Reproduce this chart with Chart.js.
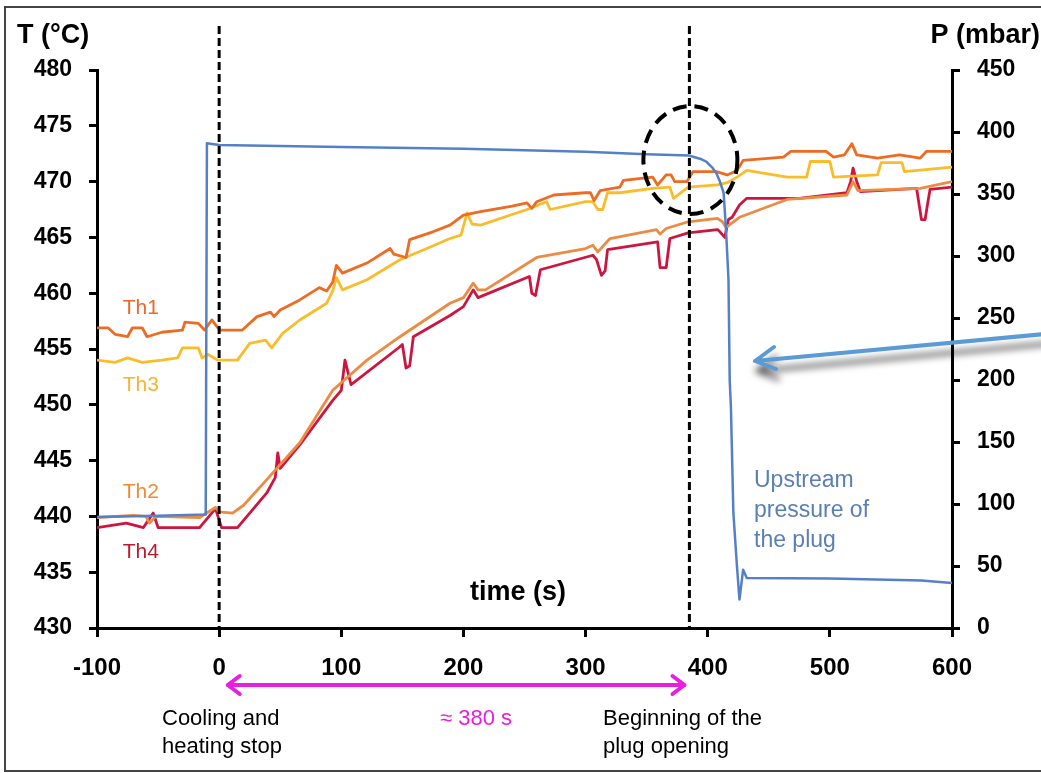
<!DOCTYPE html>
<html>
<head>
<meta charset="utf-8">
<script src="https://cdn.jsdelivr.net/npm/chart.js@4"></script>
<style>
  body { margin: 0; background: #fff; }
  canvas { display: block; }
</style>
</head>
<body>
<canvas id="myChart" width="1041" height="773"></canvas>
<script>
// temperatures (°C), time in s
const th1Time = [-100, -91, -85, -75, -71, -63, -59, -47, -30, -28, -17, -12, -6, -1, 1, 19, 31, 42, 45, 50, 66, 82, 88, 93, 96, 101, 121, 140, 143, 153, 156, 175, 189, 200, 214, 240, 252, 256, 260, 274, 300, 304, 307, 312, 328, 331, 355, 359, 366, 370, 373, 383, 388, 407, 416, 424, 429, 462, 468, 497, 503, 512, 518, 522, 539, 557, 574, 579, 600];
const th1 = [456.9, 456.9, 456.3, 456.1, 456.9, 456.9, 456.1, 456.5, 456.7, 457.4, 457.3, 456.7, 457.6, 456.9, 456.7, 456.7, 457.9, 458.3, 457.9, 458.5, 459.4, 460.5, 460.2, 461.0, 462.5, 461.8, 462.7, 464.0, 463.5, 463.2, 464.8, 465.5, 466.1, 467.0, 467.3, 467.8, 468.1, 467.6, 468.2, 468.8, 469.0, 469.0, 468.3, 469.2, 469.5, 470.1, 470.4, 469.7, 470.6, 470.6, 470.0, 470.0, 470.9, 470.9, 470.6, 471.0, 471.9, 472.2, 472.7, 472.7, 472.2, 472.4, 473.4, 472.4, 472.1, 472.4, 472.1, 472.7, 472.7];

const th3Time = [-100, -85, -75, -63, -47, -34, -30, -17, -14, -9, -1, 1, 15, 25, 38, 43, 52, 66, 88, 93, 96, 101, 121, 148, 170, 189, 198, 203, 207, 214, 252, 268, 271, 300, 306, 310, 314, 318, 328, 355, 369, 372, 384, 408, 416, 424, 432, 465, 481, 484, 500, 503, 539, 542, 559, 561, 600];
const th3 = [454.0, 453.8, 454.2, 453.8, 454.0, 454.2, 455.1, 455.1, 454.2, 454.5, 454.0, 454.0, 454.0, 455.5, 455.8, 455.1, 456.4, 457.6, 459.1, 460.2, 461.4, 460.3, 461.2, 463.0, 464.0, 464.9, 465.2, 467.2, 466.2, 466.1, 467.5, 468.2, 467.5, 468.2, 468.2, 467.5, 467.5, 469.0, 469.0, 469.4, 469.5, 468.5, 469.5, 469.7, 469.9, 470.4, 471.0, 470.4, 470.4, 471.8, 471.8, 470.4, 470.6, 471.7, 471.7, 470.9, 471.3];

const th2Time = [-100, -70, -60, -57, -52, -16, -3, 0, 11, 20, 39, 66, 93, 121, 148, 189, 200, 208, 212, 218, 260, 300, 306, 310, 320, 358, 361, 366, 384, 408, 412, 415, 426, 465, 514, 519, 523, 574, 600];
const th2 = [439.9, 440.1, 440.0, 439.4, 440.0, 439.9, 440.8, 440.4, 440.3, 441.0, 443.3, 446.6, 451.3, 454.0, 456.1, 459.1, 459.6, 460.9, 460.3, 460.3, 463.2, 464.0, 464.3, 463.7, 464.9, 465.7, 465.3, 465.8, 466.4, 466.7, 466.4, 465.9, 466.8, 468.4, 468.8, 470.0, 469.2, 469.4, 470.0];

const th4Time = [-100, -76, -62, -54, -50, -16, -3, 2, 15, 39, 46, 48, 50, 66, 93, 100, 103, 108, 148, 150, 153, 156, 159, 189, 200, 208, 212, 254, 256, 259, 263, 306, 309, 313, 316, 318, 359, 361, 366, 369, 384, 408, 410, 414, 417, 420, 426, 432, 475, 514, 517, 519, 522, 525, 571, 573, 575, 578, 580, 582, 600];
const th4 = [439.0, 439.4, 439.0, 440.3, 439.0, 439.0, 440.7, 439.0, 439.0, 442.1, 443.5, 445.7, 444.3, 446.4, 450.4, 451.3, 454.0, 451.8, 455.2, 455.4, 453.3, 453.5, 456.1, 458.0, 458.8, 460.3, 459.6, 461.5, 460.0, 459.8, 462.1, 463.4, 463.0, 461.6, 462.0, 463.9, 464.6, 462.3, 462.3, 464.9, 465.4, 465.7, 465.5, 465.0, 466.6, 466.8, 467.9, 468.5, 468.5, 469.0, 470.0, 471.2, 470.0, 469.1, 469.4, 468.0, 466.6, 466.6, 468.0, 469.3, 469.5];

// upstream pressure (mbar)
const pTime = [-100, -50, -11, -10, 0, 50, 100, 200, 300, 350, 385, 388, 395, 399, 404, 407, 410, 413, 415, 417, 418, 419, 421, 424, 426, 429, 432, 500, 557, 575, 600];
const pressure = [89.5, 90.5, 91.5, 391, 389.5, 388.8, 388, 386.5, 384, 382, 381, 380, 378, 376, 371, 367, 360, 351, 321, 281, 200, 178, 93, 49, 23, 47, 40.3, 40, 38.7, 38.3, 36.3];

const timeTicks = [-100, 0, 100, 200, 300, 400, 500, 600];
const markers = [0, 385]; // dashed verticals

function pts(xs, ys) {
    return xs.map((x, i) => ({ x: x, y: ys[i] }));
}

Chart.defaults.font.family = 'Liberation Sans, Arial, sans-serif';
Chart.defaults.color = '#000';

const annotations = {
    id: 'annotations',
    afterDatasetsDraw(chart) {
        const c = chart.ctx;
        const sx = chart.scales.x;
        const area = chart.chartArea;
        c.save();

        // frame
        c.strokeStyle = '#444';
        c.lineWidth = 2;
        c.strokeRect(5, 7, 1100, 764);

        // dashed verticals
        c.strokeStyle = '#000';
        c.lineWidth = 3;
        c.setLineDash([8, 4]);
        markers.forEach(m => {
            const px = sx.getPixelForValue(m);
            c.beginPath();
            c.moveTo(px, 26);
            c.lineTo(px, area.bottom);
            c.stroke();
        });

        // dashed circle
        c.lineWidth = 4;
        c.setLineDash([14, 8]);
        c.beginPath();
        c.ellipse(sx.getPixelForValue(385) + 1, 160, 47, 54, 0, 0, Math.PI * 2);
        c.stroke();
        c.setLineDash([]);

        // series labels
        c.font = '21px Liberation Sans, Arial, sans-serif';
        c.textBaseline = 'middle';
        c.textAlign = 'left';
        const lx = sx.getPixelForValue(-79);
        const sy = chart.scales.y;
        [['Th1', 458.7, '#e8692a'], ['Th3', 451.8, '#f5b52e'], ['Th2', 442.2, '#ef8c32'], ['Th4', 436.8, '#b81c2e']].forEach(t => {
            c.fillStyle = t[2];
            c.fillText(t[0], lx, sy.getPixelForValue(t[1]));
        });

        // pressure label
        c.fillStyle = '#5a7fb5';
        c.font = '23px Liberation Sans, Arial, sans-serif';
        ['Upstream', 'pressure of', 'the plug'].forEach((s, i) => {
            c.fillText(s, 754, 481 + i * 30);
        });

        // axis titles
        c.fillStyle = '#000';
        c.font = 'bold 27px Liberation Sans, Arial, sans-serif';
        c.textAlign = 'left';
        c.fillText('T (°C)', 17, 36);
        c.textAlign = 'right';
        c.fillText('P (mbar)', 1040, 36);
        c.textAlign = 'center';
        c.fillText('time (s)', 518, 593);

        // bottom notes
        c.font = '22px Liberation Sans, Arial, sans-serif';
        c.textAlign = 'left';
        c.fillText('Cooling and', 162, 719);
        c.fillText('heating stop', 162, 747);
        c.fillText('Beginning of the', 603, 719);
        c.fillText('plug opening', 603, 747);
        c.fillStyle = '#e81ee0';
        c.textAlign = 'center';
        c.fillText('≈ 380 s', 476, 719);

        // magenta double arrow
        const ax0 = sx.getPixelForValue(7), ax1 = sx.getPixelForValue(381), ay = 685;
        c.strokeStyle = '#e81ee0';
        c.lineWidth = 4;
        c.lineCap = 'round';
        c.lineJoin = 'round';
        c.beginPath();
        c.moveTo(ax0, ay); c.lineTo(ax1, ay);
        c.moveTo(ax0 + 12, ay - 9); c.lineTo(ax0, ay); c.lineTo(ax0 + 12, ay + 9);
        c.moveTo(ax1 - 12, ay - 9); c.lineTo(ax1, ay); c.lineTo(ax1 - 12, ay + 9);
        c.stroke();

        // blue pointer with shadow
        c.save();
        c.shadowColor = 'rgba(0,0,0,0.65)';
        c.shadowBlur = 7;
        c.shadowOffsetX = 2;
        c.shadowOffsetY = 10;
        c.strokeStyle = '#5b9bd5';
        c.lineWidth = 4;
        c.beginPath();
        c.moveTo(1045, 334);
        c.lineTo(755, 361);
        c.moveTo(774, 347); c.lineTo(755, 361); c.lineTo(776, 369);
        c.stroke();
        c.restore();

        c.restore();
    }
};

const ctx = document.getElementById('myChart').getContext('2d');
const myChart = new Chart(ctx, {
    type: 'line',
    data: {
        datasets: [
            { label: 'P', data: pts(pTime, pressure), yAxisID: 'y1', borderColor: '#5580c8', borderWidth: 2.5 },
            { label: 'Th1', data: pts(th1Time, th1), yAxisID: 'y', borderColor: '#ee6b23', borderWidth: 2.8 },
            { label: 'Th3', data: pts(th3Time, th3), yAxisID: 'y', borderColor: '#f9bd2c', borderWidth: 2.8 },
            { label: 'Th2', data: pts(th2Time, th2), yAxisID: 'y', borderColor: '#ec8b42', borderWidth: 2.8 },
            { label: 'Th4', data: pts(th4Time, th4), yAxisID: 'y', borderColor: '#cc1640', borderWidth: 2.8 }
        ]
    },
    options: {
        responsive: false,
        animation: false,
        devicePixelRatio: 1,
        layout: { padding: { left: 0, right: 0, top: 70, bottom: 85 } },
        elements: { point: { radius: 0 }, line: { tension: 0, borderJoinStyle: 'round' } },
        plugins: { legend: { display: false }, tooltip: { enabled: false } },
        scales: {
            x: {
                type: 'linear',
                min: -100,
                max: 600,
                afterBuildTicks: axis => { axis.ticks = timeTicks.map(v => ({ value: v })); },
                afterFit: axis => { axis.height = 60; },
                grid: { drawOnChartArea: false, drawTicks: true, tickLength: 9, color: '#000', lineWidth: 3 },
                border: { display: true, color: '#000', width: 3 },
                ticks: { font: { size: 24, weight: 'bold' }, padding: 17, maxRotation: 0 }
            },
            y: {
                position: 'left',
                min: 430,
                max: 480,
                ticks: { stepSize: 5, font: { size: 23, weight: 'bold' }, padding: 17 },
                afterFit: axis => { axis.width = 97; },
                grid: { drawOnChartArea: false, drawTicks: true, tickLength: 8, color: '#000', lineWidth: 3 },
                border: { display: true, color: '#000', width: 3 }
            },
            y1: {
                position: 'right',
                min: 0,
                max: 450,
                ticks: { stepSize: 50, font: { size: 23, weight: 'bold' }, padding: 17 },
                afterFit: axis => { axis.width = 89; },
                grid: { drawOnChartArea: false, drawTicks: true, tickLength: 8, color: '#000', lineWidth: 3 },
                border: { display: true, color: '#000', width: 3 }
            }
        }
    },
    plugins: [annotations]
});
</script>
</body>
</html>
